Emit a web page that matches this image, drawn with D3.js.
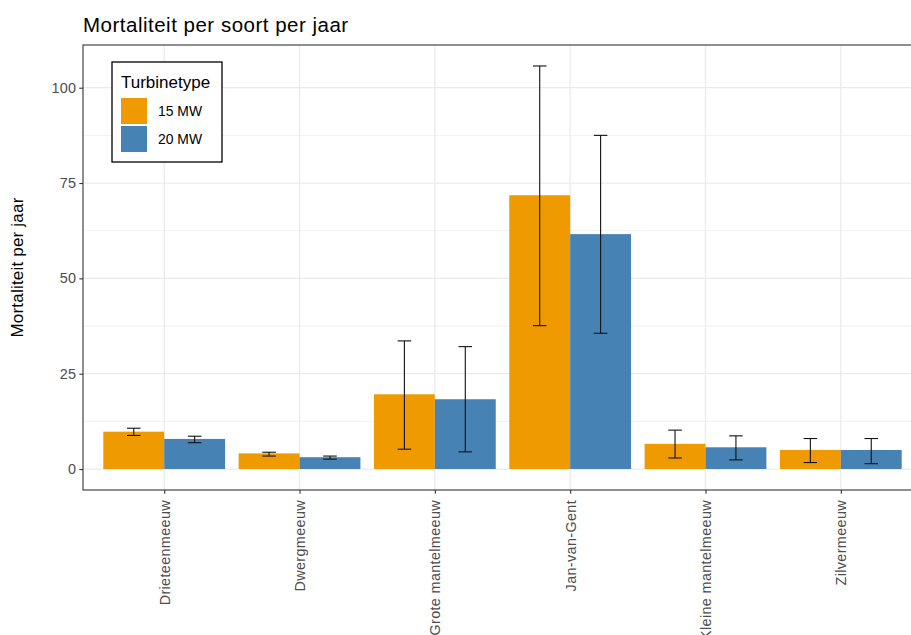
<!DOCTYPE html>
<html>
<head>
<meta charset="utf-8">
<script src="https://cdn.jsdelivr.net/npm/d3@7"></script>
<style>
	body { margin: 0; background: #fff; }
	svg text { font-family: "Liberation Sans", Arial, sans-serif; }
</style>
</head>
<body>
<div id="chart"></div>
<script>
/* mortaliteit per soort, grouped bars with error bars */

var soorten = ["Drieteenmeeuw", "Dwergmeeuw", "Grote mantelmeeuw", "Jan-van-Gent", "Kleine mantelmeeuw", "Zilvermeeuw"];
var turbines = ["15 MW", "20 MW"];

// mean, lower, upper per soort
var mean15 = [9.8, 4.1, 19.6, 71.8, 6.6, 5.0];
var low15  = [8.8, 3.4, 5.2, 37.6, 2.9, 1.7];
var high15 = [10.7, 4.4, 33.6, 105.7, 10.2, 8.0];

var mean20 = [7.9, 3.1, 18.3, 61.6, 5.7, 5.0];
var low20  = [6.9, 2.6, 4.5, 35.6, 2.4, 1.4];
var high20 = [8.6, 3.4, 32.1, 87.5, 8.7, 8.0];

var yTicks = [0, 25, 50, 75, 100];
var yMinor = [12.5, 37.5, 62.5, 87.5];

var kleuren = ["#ee9a00", "#4682b4"];

var width = 911, height = 635;
var margin = {top: 45, left: 83, bottom: 145, right: -11};

// build rows for drawing
var rows = [];
soorten.forEach(function(s, i){
	rows.push({soort: s, type: turbines[0], mean: mean15[i], lo: low15[i], hi: high15[i]});
	rows.push({soort: s, type: turbines[1], mean: mean20[i], lo: low20[i], hi: high20[i]});
});

var svg = d3.select("#chart").append("svg")
	.attr("width", width)
	.attr("height", height);

var x0 = margin.left, x1 = width - margin.right;
var yTop = margin.top, yBot = height - margin.bottom;

// scales
var x = d3.scalePoint()
	.domain(soorten)
	.range([x0, x1])
	.padding(0.6);

var step = x.step();

var xInner = d3.scaleBand()
	.domain(turbines)
	.range([-0.45 * step, 0.45 * step]);

var y = d3.scaleLinear()
	.domain([-5.5, 111.2])
	.range([yBot, yTop]);

var color = d3.scaleOrdinal()
	.domain(turbines)
	.range(kleuren);

// grid
var g = svg.append("g");

g.selectAll(".minor")
	.data(yMinor)
	.enter().append("line")
	.attr("x1", x0).attr("x2", x1)
	.attr("y1", d => y(d)).attr("y2", d => y(d))
	.attr("stroke", "#ebebeb")
	.attr("stroke-width", 0.7);

g.selectAll(".major")
	.data(yTicks)
	.enter().append("line")
	.attr("x1", x0).attr("x2", x1)
	.attr("y1", d => y(d)).attr("y2", d => y(d))
	.attr("stroke", "#ebebeb")
	.attr("stroke-width", 1.3);

g.selectAll(".vmajor")
	.data(soorten)
	.enter().append("line")
	.attr("x1", d => x(d)).attr("x2", d => x(d))
	.attr("y1", yTop).attr("y2", yBot)
	.attr("stroke", "#ebebeb")
	.attr("stroke-width", 1.3);

// bars
g.selectAll(".bar")
	.data(rows)
	.enter().append("rect")
	.attr("x", d => x(d.soort) + xInner(d.type))
	.attr("width", xInner.bandwidth())
	.attr("y", d => y(d.mean))
	.attr("height", d => y(0) - y(d.mean))
	.attr("fill", d => color(d.type));

// error bars
var capHalf = 0.05 * step;
var eb = g.selectAll(".err")
	.data(rows)
	.enter().append("g")
	.attr("transform", d => `translate(${x(d.soort) + xInner(d.type) + xInner.bandwidth() / 2},0)`)
	.attr("stroke", "#111")
	.attr("stroke-width", 1.1);

eb.append("line")
	.attr("x1", 0).attr("x2", 0)
	.attr("y1", d => y(d.lo)).attr("y2", d => y(d.hi));
eb.append("line")
	.attr("x1", -capHalf).attr("x2", capHalf)
	.attr("y1", d => y(d.lo)).attr("y2", d => y(d.lo));
eb.append("line")
	.attr("x1", -capHalf).attr("x2", capHalf)
	.attr("y1", d => y(d.hi)).attr("y2", d => y(d.hi));

// panel border
svg.append("rect")
	.attr("x", x0).attr("y", yTop)
	.attr("width", x1 - x0).attr("height", yBot - yTop)
	.attr("fill", "none")
	.attr("stroke", "#333")
	.attr("stroke-width", 1.1);

// y axis
var yAxis = svg.append("g")
	.attr("transform", `translate(${x0},0)`)
	.call(d3.axisLeft(y).tickValues(yTicks).tickSize(3.7).tickPadding(3));
yAxis.select(".domain").remove();
yAxis.selectAll("line").attr("stroke", "#333").attr("stroke-width", 1.1);
yAxis.selectAll("text")
	.attr("fill", "#4d4d4d")
	.style("font-size", "14.4px")
	.style("letter-spacing", "0.3px");

// x axis
var xAxis = svg.append("g")
	.attr("transform", `translate(0,${yBot})`)
	.call(d3.axisBottom(x).tickSize(3.7).tickPadding(3));
xAxis.select(".domain").remove();
xAxis.selectAll("line").attr("stroke", "#333").attr("stroke-width", 1.1);
xAxis.selectAll("text")
	.attr("fill", "#4d4d4d")
	.style("font-size", "14.4px")
	.style("letter-spacing", "0.35px")
	.attr("text-anchor", "end")
	.attr("dy", "0.35em")
	.attr("transform", "translate(0,10) rotate(-90)")
	.attr("x", 0).attr("y", 0);

// titles
svg.append("text")
	.attr("x", x0)
	.attr("y", 32)
	.style("font-size", "20.5px")
	.style("letter-spacing", "0.5px")
	.attr("fill", "#000")
	.text("Mortaliteit per soort per jaar");

svg.append("text")
	.attr("transform", `translate(23,${(yTop + yBot) / 2}) rotate(-90)`)
	.attr("text-anchor", "middle")
	.style("font-size", "17px")
	.style("letter-spacing", "0.2px")
	.attr("fill", "#000")
	.text("Mortaliteit per jaar");

// legend
var legend = svg.append("g").attr("transform", "translate(112,62)");
legend.append("rect")
	.attr("width", 110).attr("height", 100)
	.attr("fill", "#fff")
	.attr("stroke", "#000")
	.attr("stroke-width", 1.3);
legend.append("text")
	.attr("x", 9).attr("y", 26)
	.style("font-size", "17px")
	.text("Turbinetype");

var items = legend.selectAll(".item")
	.data(turbines)
	.enter().append("g")
	.attr("transform", (d, i) => `translate(9,${36 + i * 28})`);
items.append("rect")
	.attr("width", 26).attr("height", 26)
	.attr("fill", d => color(d));
items.append("text")
	.attr("x", 37).attr("y", 13)
	.attr("dy", "0.35em")
	.style("font-size", "13.9px")
	.text(d => d);
</script>
</body>
</html>
